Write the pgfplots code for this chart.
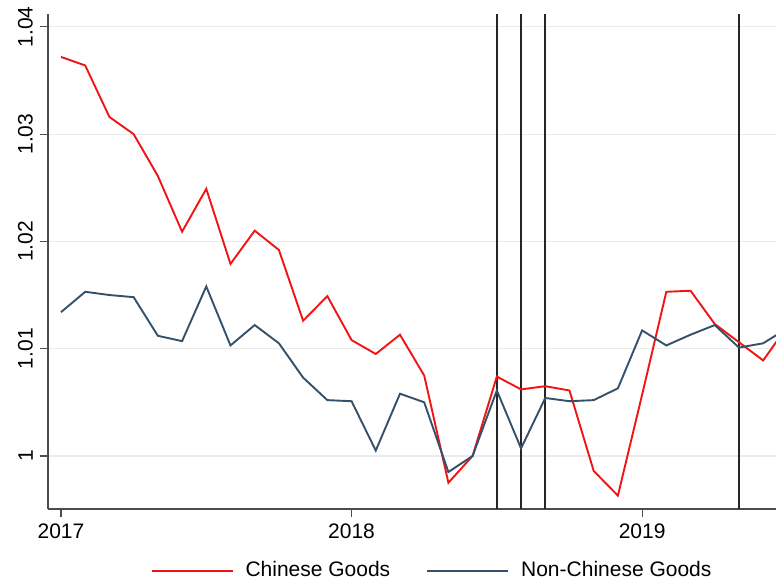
\documentclass[border=0pt]{standalone}
\usepackage{fontspec}
\setmainfont{Liberation Sans}
\usepackage{pgfplots}
\pgfplotsset{compat=1.18}
\definecolor{cred}{RGB}{240,20,20}
\definecolor{cblue}{RGB}{52,80,106}
\pgfplotstableread{
k chinese nonchinese
0 1.0372 1.0134
1 1.0364 1.0153
2 1.0316 1.0150
3 1.0300 1.0148
4 1.0261 1.0112
5 1.0209 1.0107
6 1.0249 1.0158
7 1.0179 1.0103
8 1.0210 1.0122
9 1.0192 1.0105
10 1.0126 1.0073
11 1.0149 1.0052
12 1.0108 1.0051
13 1.0095 1.0005
14 1.0113 1.0058
15 1.0075 1.0050
16 0.9975 0.9985
17 1.0000 1.0000
18 1.0074 1.0061
19 1.0062 1.0007
20 1.0065 1.0054
21 1.0061 1.0051
22 0.9986 1.0052
23 0.9963 1.0063
24 1.0057 1.0117
25 1.0153 1.0103
26 1.0154 1.0113
27 1.0123 1.0122
28 1.0106 1.0101
29 1.0089 1.0105
30 1.0121 1.0119
}\datatable
\begin{document}
\fontsize{21}{25}\selectfont
\begin{tikzpicture}
\useasboundingbox (-48pt,-73pt) rectangle (728pt,509pt);
\begin{axis}[
  at={(0,0)}, anchor=south west,
  scale only axis, width=728pt, height=495pt,
  xmin=-0.537, xmax=29.53, ymin=0.99505, ymax=1.0412,
  axis x line*=bottom, axis y line*=left,
  axis line style={-, color=black!70, line width=1.2pt},
  xtick={0,12,24}, xticklabels={2017,2018,2019},
  ytick={1,1.01,1.02,1.03,1.04}, yticklabels={1,1.01,1.02,1.03,1.04},
  yticklabel style={rotate=90, anchor=south},
  tick align=outside, major tick length=8pt,
  tick style={color=black!70, line width=1.2pt},
  ymajorgrids, grid style={color=black!8, line width=1.2pt},
  /pgf/number format/assume math mode=true,
  ticklabel style={font=\fontsize{21}{25}\selectfont},
  clip=true,
  legend columns=2,
  legend style={at={(0.5275,-0.125)}, anchor=center, draw=none, fill=none,
    font=\fontsize{21}{25}\selectfont,
    /tikz/every odd column/.append style={column sep=10pt},
    /tikz/every even column/.append style={column sep=34pt}},
  legend image code/.code={\draw[#1] (0pt,0pt) -- (81pt,0pt);},
]
\addplot[black!85, line width=1.8pt, forget plot] coordinates {(18,0.99505) (18,1.0412)};
\addplot[black!85, line width=1.8pt, forget plot] coordinates {(19,0.99505) (19,1.0412)};
\addplot[black!85, line width=1.8pt, forget plot] coordinates {(20,0.99505) (20,1.0412)};
\addplot[black!85, line width=1.8pt, forget plot] coordinates {(28,0.99505) (28,1.0412)};
\addplot[cred, line width=1.9pt] table[x=k, y=chinese] {\datatable};
\addlegendentry{Chinese Goods}
\addplot[cblue, line width=1.9pt] table[x=k, y=nonchinese] {\datatable};
\addlegendentry{Non-Chinese Goods}
\end{axis}
\end{tikzpicture}
\end{document}
